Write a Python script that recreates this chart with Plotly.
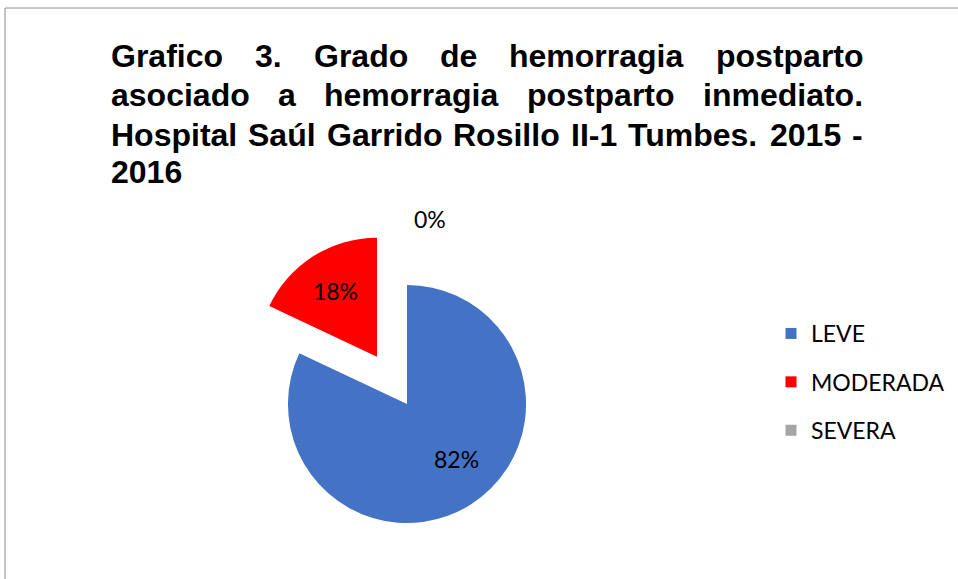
import math
import plotly.graph_objects as go

W, H = 958, 579

labels = ["LEVE", "MODERADA", "SEVERA"]
values = [82, 18, 0]
colors = ["#4472C4", "#FF0000", "#A5A5A5"]
pulls = [0, 0.47, 0.44]
text_pos = ["none", "inside", "outside"]

title_lines = [
    ["Grafico", "3.", "Grado", "de", "hemorragia", "postparto"],
    ["asociado", "a", "hemorragia", "postparto", "inmediato."],
    ["Hospital", "Saúl", "Garrido", "Rosillo", "II-1", "Tumbes.", "2015", "-"],
    ["2016"],
]
# layout: left edge of each word (px) and vertical centre of each line (px)
word_x = [
    [110, 254, 312.7, 438.9, 508.2, 714.5],
    [110, 277.1, 323.3, 526, 702],
    [110, 247, 325.5, 452, 570, 627, 769.4, 851],
    [110],
]
line_y = [55.5, 95, 134.5, 172.5]

# pie domain in px
dom_x = (232, 582)
dom_y = (229, 579)  # top, bottom (from top of page)

fig = go.Figure()

fig.add_trace(go.Pie(
    labels=labels, values=values, sort=False, direction="clockwise", rotation=0,
    pull=pulls, marker=dict(colors=colors, line=dict(width=0)),
    texttemplate="%{percent:.0%}", textposition=text_pos,
    insidetextorientation="horizontal",
    textfont=dict(family="Lato", size=23, color="black"),
    domain=dict(x=[dom_x[0] / W, dom_x[1] / W], y=[1 - dom_y[1] / H, 1 - dom_y[0] / H]),
    showlegend=False, hoverinfo="label+percent",
))

# label of the large slice, placed along its mid-angle (Excel-style best fit)
total = sum(values)
cx = (dom_x[0] + dom_x[1]) / 2
cy = (dom_y[0] + dom_y[1]) / 2
r = min(dom_x[1] - dom_x[0], dom_y[1] - dom_y[0]) / (2 + 2 * max(pulls))
start = 0
for v, tp in zip(values, text_pos):
    mid = (start + v / 2) / total * 2 * math.pi
    start += v
    if tp == "none":
        px = cx + 0.71 * r * math.sin(mid)
        py = cy - 0.71 * r * math.cos(mid)
        fig.add_annotation(
            text=f"{round(v / total * 100)}%", x=(px + 4) / W, y=1 - py / H,
            xref="paper", yref="paper", showarrow=False,
            font=dict(family="Lato", size=23, color="black"),
        )

for lab, col in zip(labels, colors):
    fig.add_trace(go.Scatter(
        x=[None], y=[None], mode="markers", name=lab, legendgroup=lab,
        marker=dict(symbol="square", size=11, color=col),
    ))

for words, xs, yc in zip(title_lines, word_x, line_y):
    for w, x in zip(words, xs):
        fig.add_annotation(
            text=w, x=(x - 1) / W, y=1 - yc / H, xref="paper", yref="paper",
            xanchor="left", yanchor="middle", showarrow=False,
            font=dict(family="Liberation Sans", size=32, color="black", weight="bold"),
        )

# chart frame (top and left edges visible)
fig.add_shape(type="line", xref="paper", yref="paper", x0=5 / W, x1=1, y0=1 - 8 / H, y1=1 - 8 / H,
              line=dict(color="#8C8C8C", width=1))
fig.add_shape(type="line", xref="paper", yref="paper", x0=5 / W, x1=5 / W, y0=0, y1=1 - 8 / H,
              line=dict(color="#8C8C8C", width=1))

fig.update_layout(
    width=W, height=H, margin=dict(l=0, r=0, t=0, b=0, autoexpand=False),
    paper_bgcolor="white", plot_bgcolor="white",
    xaxis=dict(visible=False), yaxis=dict(visible=False),
    showlegend=True,
    legend=dict(x=771 / W, y=1 - 312 / H, xanchor="left", yanchor="top",
                font=dict(family="Lato", size=23, color="black"),
                tracegroupgap=15.5, bgcolor="rgba(0,0,0,0)"),
)

fig.write_html(
    "out.html",
    config={"responsive": False, "displayModeBar": False},
    post_script="document.body.style.margin='0';",
)
